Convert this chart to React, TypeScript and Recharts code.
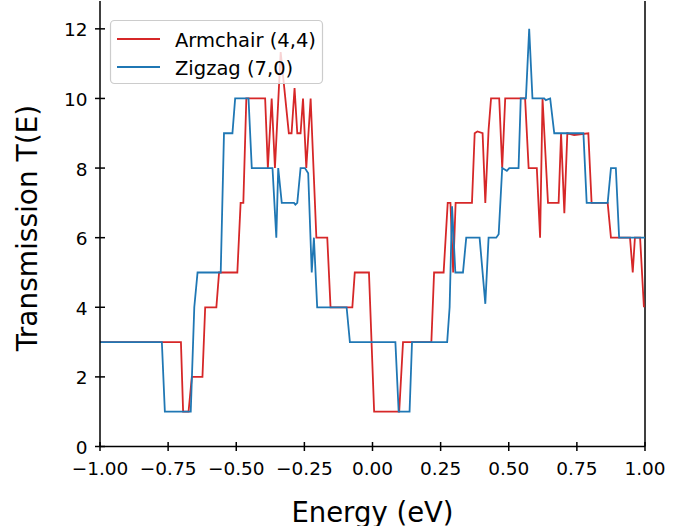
import React from "react";
import { LineChart, Line, XAxis, YAxis, ReferenceLine } from "recharts";

// [energy (eV), transmission]
const armchairSteps: [number, number][] = [
  [-1.0, 3], [-0.703, 3], [-0.695, 1], [-0.675, 1], [-0.663, 2], [-0.624, 2],
  [-0.614, 4], [-0.573, 4], [-0.563, 5], [-0.496, 5], [-0.484, 7], [-0.474, 7],
  [-0.463, 10], [-0.394, 10], [-0.384, 8], [-0.37, 10], [-0.358, 8], [-0.337, 11.33],
  [-0.307, 9], [-0.297, 9], [-0.286, 10.3], [-0.276, 9], [-0.264, 9], [-0.255, 10],
  [-0.243, 8], [-0.227, 10], [-0.206, 6], [-0.166, 6], [-0.154, 4], [-0.074, 4],
  [-0.065, 5], [-0.013, 5], [0.006, 1], [0.098, 1], [0.112, 3], [0.216, 3],
  [0.226, 5], [0.261, 5], [0.276, 7], [0.286, 7], [0.296, 5], [0.305, 7],
  [0.365, 7], [0.375, 9], [0.385, 9.05], [0.404, 9], [0.414, 7], [0.426, 9.1],
  [0.435, 10], [0.465, 10], [0.476, 8], [0.487, 10], [0.56, 10], [0.573, 8],
  [0.603, 8], [0.615, 6], [0.624, 10], [0.644, 7], [0.683, 7], [0.692, 9],
  [0.704, 6.7], [0.715, 9], [0.74, 8.95], [0.792, 9], [0.804, 7], [0.863, 7],
  [0.875, 6], [0.945, 6], [0.955, 5], [0.963, 6], [0.982, 6], [0.996, 4],
];

const zigzagSteps: [number, number][] = [
  [-1.0, 3], [-0.773, 3], [-0.762, 1], [-0.667, 1], [-0.654, 4], [-0.642, 5],
  [-0.557, 5], [-0.545, 9], [-0.514, 9], [-0.504, 10], [-0.455, 10], [-0.443, 8],
  [-0.367, 8], [-0.353, 6], [-0.346, 8], [-0.333, 7], [-0.288, 7], [-0.283, 6.95],
  [-0.276, 7], [-0.264, 8], [-0.248, 8], [-0.236, 7.85], [-0.223, 5], [-0.215, 6],
  [-0.203, 4], [-0.095, 4], [-0.083, 3], [0.084, 3], [0.096, 1], [0.136, 1],
  [0.145, 3], [0.274, 3], [0.283, 4], [0.292, 6.9], [0.304, 5], [0.332, 5],
  [0.344, 6], [0.393, 6], [0.414, 4.1], [0.426, 6], [0.454, 6], [0.463, 6.1],
  [0.476, 8], [0.493, 7.92], [0.502, 8], [0.536, 8], [0.544, 10], [0.563, 10],
  [0.575, 12], [0.587, 10], [0.63, 10], [0.636, 9.95], [0.652, 10], [0.667, 9],
  [0.774, 9], [0.786, 7], [0.863, 7], [0.875, 8], [0.893, 8], [0.905, 6],
  [1.0, 6],
];

const xTicks = [-1, -0.75, -0.5, -0.25, 0, 0.25, 0.5, 0.75, 1];
const yTicks = [0, 2, 4, 6, 8, 10, 12];

const RED = "#d62728";
const BLUE = "#1f77b4";
const FONT = "DejaVu Sans, sans-serif";

const toRows = (steps: [number, number][]) => steps.map(([e, t]) => ({ e, t }));

const fmtX = (v: number) => (v < 0 ? "\u2212" : "") + Math.abs(v).toFixed(2);

const XTick = ({ x, y, payload }: any) => (
  <g>
    <line x1={x} x2={x} y1={y - 4.5} y2={y + 4.5} stroke="#000" strokeWidth={1.5} />
    <text x={x} y={y + 28.5} textAnchor="middle" fontSize={18.5} fontFamily={FONT} fill="#000">
      {fmtX(payload.value)}
    </text>
  </g>
);

const YTick = ({ x, y, payload }: any) => (
  <g>
    <line x1={x - 5} x2={x + 5} y1={y} y2={y} stroke="#000" strokeWidth={1.5} />
    <text x={x - 12.5} y={y + 7.5} textAnchor="end" fontSize={18.5} fontFamily={FONT} fill="#000">
      {payload.value}
    </text>
  </g>
);

export default function App() {
  return (
    <div style={{ position: "absolute", left: 0, top: 0, width: 682, height: 526, background: "#fff" }}>
      <LineChart width={682} height={526} margin={{ top: 1, right: 37, bottom: 0, left: 0 }}>
        <XAxis
          type="number"
          dataKey="e"
          domain={[-1, 1]}
          ticks={xTicks}
          height={79.5}
          tickSize={0}
          tickMargin={0}
          tickLine={false}
          axisLine={{ stroke: "#000", strokeWidth: 1.5 }}
          tick={<XTick />}
          interval={0}
          allowDataOverflow
        />
        <YAxis
          type="number"
          domain={[0, 12.8]}
          ticks={yTicks}
          width={100}
          tickSize={0}
          tickMargin={0}
          tickLine={false}
          axisLine={{ stroke: "#000", strokeWidth: 1.5 }}
          tick={<YTick />}
          interval={0}
          allowDataOverflow
        />
        <ReferenceLine x={1} stroke="#000" strokeWidth={1.5} />
        <Line
          data={toRows(armchairSteps)}
          dataKey="t"
          type="linear"
          stroke={RED}
          strokeWidth={1.8}
          dot={false}
          isAnimationActive={false}
        />
        <Line
          data={toRows(zigzagSteps)}
          dataKey="t"
          type="linear"
          stroke={BLUE}
          strokeWidth={1.8}
          dot={false}
          isAnimationActive={false}
        />
      </LineChart>
      <svg
        width={682}
        height={526}
        style={{ position: "absolute", left: 0, top: 0, pointerEvents: "none" }}
        fontFamily={FONT}
      >
        <text x={372.5} y={521.5} textAnchor="middle" fontSize={27.5} fill="#000">
          Energy (eV)
        </text>
        <text
          x={36.5}
          y={228}
          textAnchor="middle"
          fontSize={28}
          fill="#000"
          transform="rotate(-90, 36.5, 228)"
        >
          Transmission T(E)
        </text>
        <rect
          x={110.5}
          y={20.5}
          width={212}
          height={63}
          rx={4}
          fill="rgba(255,255,255,0.8)"
          stroke="#cccccc"
          strokeWidth={1.2}
        />
        <line x1={117} x2={160} y1={39} y2={39} stroke={RED} strokeWidth={1.8} />
        <text x={175} y={46.5} fontSize={19.5} fill="#000">
          Armchair (4,4)
        </text>
        <line x1={117} x2={160} y1={67} y2={67} stroke={BLUE} strokeWidth={1.8} />
        <text x={175} y={75} fontSize={19.5} fill="#000">
          Zigzag (7,0)
        </text>
      </svg>
    </div>
  );
}
